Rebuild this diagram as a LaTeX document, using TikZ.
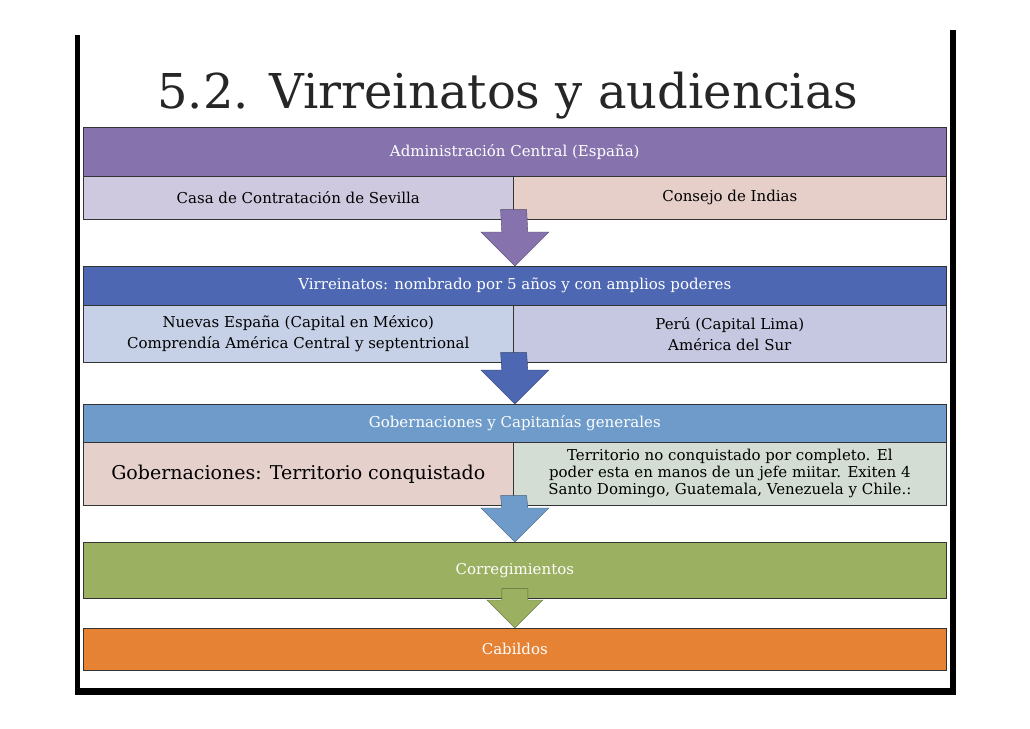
\documentclass[tikz,border=0pt]{standalone}
\usepackage{fontspec}
\setmainfont{DejaVu Serif}
\usetikzlibrary{calc}
\usetikzlibrary{positioning}
\definecolor{admin}{HTML}{8673AE}
\definecolor{casa}{HTML}{CEC9DE}
\definecolor{consejo}{HTML}{E6CEC9}
\definecolor{virr}{HTML}{4D67B2}
\definecolor{nueva}{HTML}{C6D0E6}
\definecolor{peru}{HTML}{C5C8E0}
\definecolor{gober}{HTML}{6E9BC9}
\definecolor{gobleft}{HTML}{E6D0CC}
\definecolor{gobright}{HTML}{D3DDD3}
\definecolor{correg}{HTML}{9BB061}
\definecolor{cabil}{HTML}{E58234}
\newcommand{\fatarrow}[4]{% from, to, colour, half width of head
  \fill[#3, draw=#3!60!black, line width=0.4pt]
    ($(#1)+(-13,-10)$) -- ($(#2.north)+(-13,-#4)$) -- ($(#2.north)+(-#4,-#4)$)
    -- (#2.north) -- ($(#2.north)+(#4,-#4)$) -- ($(#2.north)+(13,-#4)$)
    -- ($(#1)+(13,-10)$) -- cycle;}
\begin{document}
\begin{tikzpicture}[x=1pt, y=-1pt,
  bar/.style={draw=black!80, line width=0.6pt, anchor=north west, inner sep=2pt, align=center, font=\fontsize{15}{18}\selectfont},
  head/.style={bar, minimum width=863pt, text=white}]
\useasboundingbox (0,0) rectangle (1030,728);
\fill[white] (0,0) rectangle (1030,728);
% slide frame
\fill[black] (75,35) rectangle (80,695);
\fill[black] (950,30) rectangle (956,695);
\fill[black] (75,688) rectangle (956,695);
\node[anchor=base, font=\fontsize{48}{56}\selectfont, text=black!85] (T) at (508,108) {5.2. Virreinatos y audiencias};
% level 1
\node[head, fill=admin, minimum height=49pt] (A) at (83,127) {Administración Central (España)};
\node[bar, fill=casa, minimum width=430pt, minimum height=43pt] (A1) at (83,176) {Casa de Contratación de Sevilla};
\node[bar, fill=consejo, minimum width=433pt, minimum height=43pt] (A2) at (513,176) {Consejo de Indias};
% level 2
\node[head, fill=virr, minimum height=39pt] (V) at (83,266) {Virreinatos: nombrado por 5 años y con amplios poderes};
\node[bar, fill=nueva, minimum width=430pt, minimum height=57pt] (V1) at (83,305) {Nuevas España (Capital en México)\\[3pt]Comprendía América Central y septentrional};
\node[bar, fill=peru, minimum width=433pt, minimum height=57pt] (V2) at (513,305) {Perú (Capital Lima)\\[3pt]América del Sur};
% level 3
\node[head, fill=gober, minimum height=38pt] (G) at (83,404) {Gobernaciones y Capitanías generales};
\node[bar, fill=gobleft, minimum width=430pt, minimum height=63pt, font=\fontsize{19}{22}\selectfont] (G1) at (83,442) {Gobernaciones: Territorio conquistado};
\node[bar, fill=gobright, minimum width=433pt, minimum height=63pt, font=\fontsize{15}{17}\selectfont] (G2) at (513,442) {Territorio no conquistado por completo. El\\poder esta en manos de un jefe miitar. Exiten 4\\Santo Domingo, Guatemala, Venezuela y Chile.:};
% level 4 and 5
\node[head, fill=correg, minimum height=56pt] (C) at (83,542) {Corregimientos};
\node[head, fill=cabil, minimum height=42pt] (K) at (83,628) {Cabildos};
% arrows
\fatarrow{A1.south east}{V}{admin}{34}
\fatarrow{V1.south east}{G}{virr}{34}
\fatarrow{G1.south east}{C}{gober}{34}
\fatarrow{C.south}{K}{correg}{28}
\end{tikzpicture}
\end{document}
